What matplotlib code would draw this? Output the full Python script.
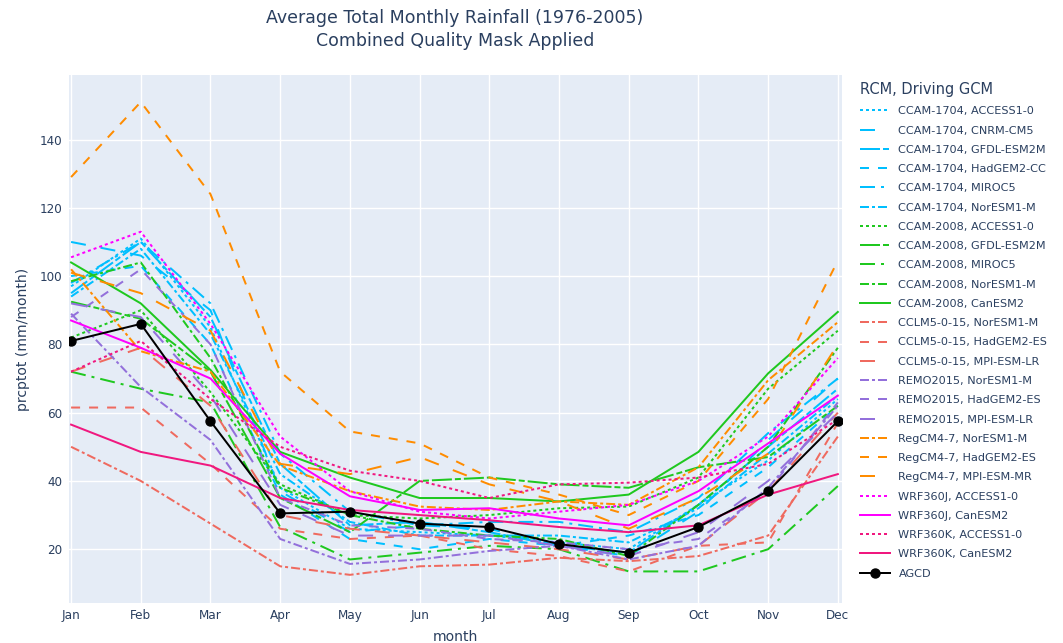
import numpy as np
import matplotlib
matplotlib.use('Agg')
import matplotlib.pyplot as plt

"""
data read off the reference chart (mm/month, Jan..Dec)
"""
months = ['Jan', 'Feb', 'Mar', 'Apr', 'May', 'Jun', 'Jul', 'Aug', 'Sep', 'Oct', 'Nov', 'Dec']

ccam1704_access = [97, 111, 85, 38, 26, 25, 24, 22, 20, 33, 46, 64]
ccam1704_cnrm = [110, 106, 90, 37, 25, 27, 26, 21, 18, 31, 52, 70]
ccam1704_gfdl = [95, 110, 88, 45, 27, 28, 25, 21, 19, 33, 50, 67]
ccam1704_hadgem = [100, 103, 80, 36, 23, 20, 23, 21, 24, 30, 44, 62]
ccam1704_miroc = [98, 110, 92, 48, 31, 27, 28, 28, 25, 35, 54, 70]
ccam1704_noresm = [94, 108, 83, 42, 28, 24, 24, 24, 22, 32, 48, 65]

ccam2008_access = [82, 90, 66, 39, 30, 29, 30, 32, 32.5, 41, 67, 84]
ccam2008_gfdl = [92.5, 87.5, 72, 35, 25, 40, 41, 39, 38, 44, 47, 62]
ccam2008_miroc = [72, 67, 63, 26.5, 17, 19, 21, 20, 13.5, 13.5, 20, 38.5]
ccam2008_noresm = [98.5, 104, 76, 38, 30, 26, 24, 23, 18, 33, 50, 79]
ccam2008_canesm = [104, 92, 72.5, 48.5, 41, 35, 35, 34, 36, 48.5, 71.5, 89.5]

cclm_noresm = [50, 40, 27.5, 15, 12.5, 15, 15.5, 17.5, 16.5, 18, 24, 53]
cclm_hadgem = [61.5, 61.5, 45, 26, 23, 24, 20, 18, 13.5, 21, 22, 57]
cclm_mpi = [72, 79, 62, 30, 26, 24, 22, 20, 17, 21, 37, 60]

remo_noresm = [89, 67.5, 52, 23, 15.7, 17, 19.5, 21, 17, 21, 38, 62]
remo_hadgem = [88, 102, 80, 35, 27, 26, 23, 22, 20, 23, 37, 63]
remo_mpi = [92, 88, 65, 33, 24, 24, 24, 21, 18, 25, 40, 60]

regcm_noresm = [102, 78, 72, 44.5, 37, 32.5, 31.5, 34, 33, 44, 69.5, 86.5]
regcm_hadgem = [129, 151, 124, 72, 54.5, 51, 41, 36, 30, 40, 64, 104.5]
regcm_mpi = [101, 95, 84, 45, 42, 47, 39, 34, 26, 35, 48, 80]

wrf360j_access = [105.5, 113, 86, 53, 37, 31, 29, 31, 33, 40, 53, 76]
wrf360j_canesm = [87, 79, 70, 48, 35.5, 31.5, 32, 29, 27, 37, 51, 65]
wrf360k_access = [72, 81, 64, 50, 43, 40, 35, 39, 39.5, 41, 45, 58]
wrf360k_canesm = [56.5, 48.5, 44.5, 35, 31.5, 30, 28.5, 26.5, 25, 27, 36, 42]

agcd = [81, 86, 57.5, 30.5, 31, 27.5, 26.5, 21.5, 19, 26.5, 37, 57.5]

"""
styles
"""
PX = 0.72  # px -> pt at dpi 100
dash_styles = {
    'solid': '-',
    'dot': (0, (3 * PX, 3 * PX)),
    'dash': (0, (9 * PX, 9 * PX)),
    'longdash': (0, (15 * PX, 15 * PX)),
    'dashdot': (0, (9 * PX, 3 * PX, 3 * PX, 3 * PX)),
    'longdashdot': (0, (15 * PX, 6 * PX, 3 * PX, 6 * PX)),
    'gfdl': (0, (20 * PX, 3 * PX, 6 * PX, 3 * PX)),
}

cyan = '#00BFFF'
green = '#1FC81F'
red = '#EF6A5F'
purple = '#9370DB'
orange = '#FF8C00'
magenta = '#FF00FF'
pink = '#F0187F'

series = [
    ('CCAM-1704, ACCESS1-0', ccam1704_access, cyan, 'dot'),
    ('CCAM-1704, CNRM-CM5', ccam1704_cnrm, cyan, 'longdash'),
    ('CCAM-1704, GFDL-ESM2M', ccam1704_gfdl, cyan, 'gfdl'),
    ('CCAM-1704, HadGEM2-CC', ccam1704_hadgem, cyan, 'dash'),
    ('CCAM-1704, MIROC5', ccam1704_miroc, cyan, 'longdashdot'),
    ('CCAM-1704, NorESM1-M', ccam1704_noresm, cyan, 'dashdot'),
    ('CCAM-2008, ACCESS1-0', ccam2008_access, green, 'dot'),
    ('CCAM-2008, GFDL-ESM2M', ccam2008_gfdl, green, 'gfdl'),
    ('CCAM-2008, MIROC5', ccam2008_miroc, green, 'longdashdot'),
    ('CCAM-2008, NorESM1-M', ccam2008_noresm, green, 'dashdot'),
    ('CCAM-2008, CanESM2', ccam2008_canesm, green, 'solid'),
    ('CCLM5-0-15, NorESM1-M', cclm_noresm, red, 'dashdot'),
    ('CCLM5-0-15, HadGEM2-ES', cclm_hadgem, red, 'dash'),
    ('CCLM5-0-15, MPI-ESM-LR', cclm_mpi, red, 'longdash'),
    ('REMO2015, NorESM1-M', remo_noresm, purple, 'dashdot'),
    ('REMO2015, HadGEM2-ES', remo_hadgem, purple, 'dash'),
    ('REMO2015, MPI-ESM-LR', remo_mpi, purple, 'longdash'),
    ('RegCM4-7, NorESM1-M', regcm_noresm, orange, 'dashdot'),
    ('RegCM4-7, HadGEM2-ES', regcm_hadgem, orange, 'dash'),
    ('RegCM4-7, MPI-ESM-MR', regcm_mpi, orange, 'longdash'),
    ('WRF360J, ACCESS1-0', wrf360j_access, magenta, 'dot'),
    ('WRF360J, CanESM2', wrf360j_canesm, magenta, 'solid'),
    ('WRF360K, ACCESS1-0', wrf360k_access, pink, 'dot'),
    ('WRF360K, CanESM2', wrf360k_canesm, pink, 'solid'),
]

plt.rcParams['font.family'] = ['DejaVu Sans']
plt.rcParams['lines.scale_dashes'] = False
text_col = '#2a3f5f'

fig = plt.figure(figsize=(10.63, 6.43), dpi=100)
ax = fig.add_axes([69 / 1063, 40 / 643, (842 - 69) / 1063, (603 - 75) / 643])
ax.set_facecolor('#E5ECF6')

x = np.arange(len(months))
handles = []
for label, values, color, dash in series:
    line, = ax.plot(x, values, color=color, lw=2 * PX, ls=dash_styles[dash], label=label)
    handles.append(line)

agcd_line, = ax.plot(x, agcd, color='black', lw=2 * PX, marker='o', ms=9 * PX, label='AGCD')
handles.append(agcd_line)

ax.set_xlim(-0.03, 11.06)
ax.set_ylim(4.25, 158.9)
ax.set_xticks(x)
ax.set_xticklabels(months)
ax.set_yticks([20, 40, 60, 80, 100, 120, 140])
ax.grid(color='white', lw=1)
ax.set_axisbelow(True)
for s in ax.spines.values():
    s.set_visible(False)
ax.tick_params(length=0, labelsize=12 * PX, labelcolor=text_col)
ax.tick_params(axis='x', pad=4)
ax.tick_params(axis='y', pad=5)

ax.set_xlabel('month', fontsize=14 * PX, color=text_col, labelpad=6)
ax.set_ylabel('prcptot (mm/month)', fontsize=14 * PX, color=text_col, labelpad=7)

fig.text(455 / 1063, 1 - 18 / 643, 'Average Total Monthly Rainfall (1976-2005)', ha='center', va='center',
         fontsize=17.4 * PX, color=text_col)
fig.text(455 / 1063, 1 - 41 / 643, 'Combined Quality Mask Applied', ha='center', va='center',
         fontsize=17.4 * PX, color=text_col)

leg = ax.legend(handles=handles, loc='upper left', bbox_to_anchor=(860 / 1063, 1 - 82 / 643),
                bbox_transform=fig.transFigure, frameon=False, fontsize=11.3 * PX,
                title='RCM, Driving GCM', title_fontsize=14.6 * PX, alignment='left',
                handlelength=2.65, handletextpad=0.75, labelspacing=0.82, borderpad=0,
                borderaxespad=0)
for t in leg.get_texts():
    t.set_color(text_col)
leg.get_title().set_color(text_col)

fig.savefig('out.png', dpi=100, facecolor='white')
